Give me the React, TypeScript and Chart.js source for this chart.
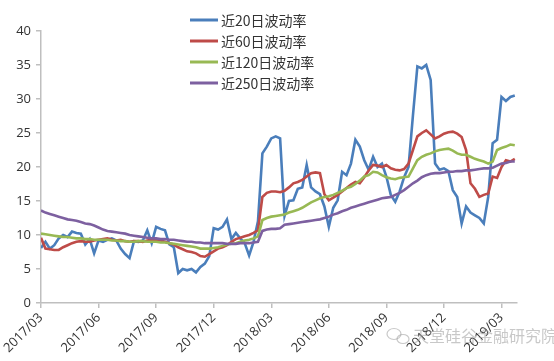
import React, { useEffect, useRef } from "react";
import { Chart, registerables } from "chart.js";

Chart.register(...registerables);

const quarterLabels = ["2017/03", "2017/06", "2017/09", "2017/12", "2018/03", "2018/06", "2018/09", "2018/12", "2019/03"];
const weeksPerQuarter = 13;

const seriesNames = ["近20日波动率", "近60日波动率", "近120日波动率", "近250日波动率"];
const seriesColors = ["#4a7ebb", "#be4b48", "#98b954", "#7d60a0"];

const vol20 = [
  8.1, 9.0, 8.0, 8.5, 9.5, 10.0, 9.7, 10.5, 10.3, 10.2, 8.6, 9.4, 7.3, 9.2, 9.0, 9.3, 9.5, 9.2, 8.0, 7.2,
  6.6, 9.1, 9.0, 9.2, 10.7, 8.8, 11.2, 10.9, 10.7, 8.6, 8.2, 4.4, 5.0, 4.8, 5.0, 4.5, 5.3, 5.8, 6.9, 11.0,
  10.8, 11.2, 12.3, 9.4, 10.3, 9.5, 8.8, 7.0, 9.0, 12.0, 22.0, 23.0, 24.2, 24.5, 24.2, 12.8, 15.0, 15.1, 16.8, 17.0,
  20.3, 17.0, 16.4, 16.0, 14.2, 11.2, 14.0, 15.1, 19.3, 18.8, 20.5, 24.0, 23.0, 21.0, 19.6, 21.5, 20.0, 20.5, 18.6, 15.9,
  14.9, 16.4, 18.5, 20.0, 27.6, 34.8, 34.5, 35.0, 32.8, 20.5, 19.6, 19.8, 19.4, 16.6, 15.6, 11.7, 14.2, 13.3, 12.9, 12.5,
  11.7, 15.6, 23.5, 24.0, 30.3, 29.7, 30.3, 30.5,
];
const vol60 = [
  9.6, 8.0, 7.9, 7.8, 7.8, 8.2, 8.5, 8.8, 9.0, 9.1, 9.0, 9.0, 9.2, 9.3, 9.4, 9.5, 9.3, 9.2, 9.3, 9.1,
  9.0, 9.1, 9.1, 9.0, 9.2, 9.3, 9.3, 9.2, 9.0, 8.8, 8.6, 8.2, 7.9, 7.6, 7.5, 7.3, 6.9, 6.8, 7.2, 7.6,
  8.0, 8.2, 8.5, 9.0, 9.4, 9.6, 9.8, 10.0, 10.3, 10.7, 15.6, 16.2, 16.4, 16.4, 16.3, 16.5, 17.0, 17.6, 17.8, 18.1,
  18.6, 19.1, 19.2, 19.1, 16.0, 15.1, 15.5, 15.9, 16.4, 16.9, 17.4, 17.8, 17.6, 18.5, 19.5, 20.3, 20.2, 20.0, 20.3, 19.8,
  19.6, 19.5, 19.7, 20.5, 22.5, 24.5, 25.0, 25.4, 24.8, 24.2, 24.5, 24.9, 25.1, 25.2, 24.9, 24.4, 22.5, 17.6, 16.8, 15.6,
  15.9, 16.1, 18.6, 18.4, 20.0, 21.0, 20.8, 21.2,
];
const vol120 = [
  10.2, 10.1, 10.0, 9.9, 9.8, 9.7, 9.7, 9.6, 9.5, 9.5, 9.4, 9.4, 9.3, 9.3, 9.3, 9.3, 9.2, 9.2, 9.1, 9.1,
  9.0, 9.0, 9.1, 9.1, 9.0, 9.0, 9.0, 8.9, 8.9, 8.8, 8.7, 8.6, 8.5, 8.4, 8.3, 8.2, 8.0, 8.0, 8.0, 8.1,
  8.2, 8.4, 8.6, 8.7, 8.8, 9.0, 9.2, 9.3, 9.5, 9.8, 12.2, 12.5, 12.7, 12.8, 12.9, 13.0, 13.3, 13.5, 13.7, 14.0,
  14.4, 14.8, 15.1, 15.4, 15.6, 15.7, 15.9, 16.2, 16.5, 16.9, 17.1, 17.5, 18.0, 18.6, 18.8, 19.3, 19.2, 18.8, 18.5, 18.3,
  18.2, 18.4, 18.5, 18.6, 19.8, 21.0, 21.5, 21.8, 22.0, 22.3, 22.5, 22.6, 22.7, 22.4, 22.0, 21.8, 21.8, 21.5, 21.2, 21.0,
  20.8, 20.5, 20.8, 22.5, 22.8, 23.0, 23.3, 23.2,
];
const vol250 = [
  13.6, 13.3, 13.1, 12.9, 12.7, 12.5, 12.3, 12.2, 12.1, 11.9, 11.7, 11.6, 11.4, 11.1, 10.8, 10.6, 10.5, 10.4, 10.3, 10.2,
  10.0, 9.9, 9.8, 9.7, 9.6, 9.5, 9.5, 9.4, 9.4, 9.3, 9.3, 9.2, 9.1, 9.0, 9.0, 8.9, 8.9, 8.8, 8.8, 8.8,
  8.8, 8.8, 8.7, 8.7, 8.7, 8.8, 8.8, 8.8, 8.9, 9.0, 10.6, 10.8, 10.9, 10.9, 11.0, 11.5, 11.6, 11.7, 11.8, 11.9,
  12.0, 12.1, 12.2, 12.3, 12.5, 12.7, 13.0, 13.2, 13.5, 13.7, 14.0, 14.2, 14.4, 14.6, 14.8, 15.0, 15.2, 15.4, 15.5, 15.6,
  15.9, 16.2, 16.6, 17.1, 17.6, 18.0, 18.5, 18.8, 19.0, 19.1, 19.1, 19.2, 19.3, 19.3, 19.4, 19.4, 19.5, 19.5, 19.6, 19.7,
  19.8, 19.8, 19.9, 20.2, 20.5, 20.6, 20.8, 20.8,
];

const allSeries = [vol20, vol60, vol120, vol250];
const watermarkText = "天堂硅谷金融研究院";

const legendPlugin = {
  id: "customLegend",
  afterDraw(chart: any) {
    const ctx = chart.ctx;
    ctx.save();
    seriesNames.forEach((name, i) => {
      const y = 20 + i * 21;
      ctx.strokeStyle = seriesColors[i];
      ctx.lineWidth = 3;
      ctx.beginPath();
      ctx.moveTo(190, y);
      ctx.lineTo(218, y);
      ctx.stroke();
      ctx.fillStyle = "#333333";
      ctx.font = "14px 'Noto Sans CJK SC', 'Noto Sans', sans-serif";
      ctx.textBaseline = "middle";
      ctx.textAlign = "left";
      ctx.fillText(name, 221, y + 1);
    });
    // watermark
    ctx.globalAlpha = 0.55;
    ctx.strokeStyle = "#9a9a9a";
    ctx.lineWidth = 1.2;
    ctx.beginPath();
    ctx.ellipse(394, 334, 7, 5.5, 0, 0, Math.PI * 2);
    ctx.stroke();
    ctx.beginPath();
    ctx.ellipse(403, 339, 6, 4.5, 0, 0, Math.PI * 2);
    ctx.stroke();
    ctx.fillStyle = "#9a9a9a";
    ctx.font = "16px 'Noto Sans CJK SC', sans-serif";
    ctx.textBaseline = "middle";
    ctx.fillText(watermarkText, 413, 336);
    ctx.restore();
  },
};

export default function App() {
  const canvasRef = useRef<HTMLCanvasElement | null>(null);

  useEffect(() => {
    document.body.style.margin = "0";
    const canvas = canvasRef.current;
    if (!canvas) return;
    const order = [3, 2, 1, 0];
    const chart = new Chart(canvas, {
      type: "line",
      data: {
        datasets: allSeries.map((vals, i) => ({
          label: seriesNames[i],
          data: vals.map((v, k) => ({ x: k, y: v })),
          borderColor: seriesColors[i],
          backgroundColor: seriesColors[i],
          borderWidth: 2.6,
          pointRadius: 0,
          tension: 0,
          order: order[i],
        })),
      },
      options: {
        responsive: false,
        animation: false,
        layout: { padding: { top: 31, right: 37, left: 0, bottom: 0 } },
        plugins: { legend: { display: false }, tooltip: { enabled: false } },
        scales: {
          x: {
            type: "linear",
            min: 0,
            max: 107.5,
            afterBuildTicks: (scale: any) => {
              scale.ticks = quarterLabels.map((_, i) => ({ value: i * weeksPerQuarter }));
            },
            afterFit: (scale: any) => {
              scale.height = 58;
            },
            ticks: {
              autoSkip: false,
              minRotation: 45,
              maxRotation: 45,
              padding: 2,
              color: "#333333",
              font: { size: 13, family: "'Open Sans', 'Noto Sans', sans-serif" },
              callback: (v: any) => quarterLabels[Math.round(Number(v) / weeksPerQuarter)] ?? "",
            },
            grid: { display: true, drawOnChartArea: false, drawTicks: true, tickLength: 5, color: "#bfbfbf", lineWidth: 1.5 },
            border: { display: true, color: "#bfbfbf", width: 1.5 },
          },
          y: {
            min: 0,
            max: 40,
            afterFit: (scale: any) => {
              scale.width = 41;
            },
            ticks: {
              stepSize: 5,
              padding: 5,
              color: "#333333",
              font: { size: 13, family: "'Open Sans', 'Noto Sans', sans-serif" },
            },
            grid: { display: true, drawOnChartArea: false, drawTicks: true, tickLength: 5, color: "#bfbfbf", lineWidth: 1.5 },
            border: { display: true, color: "#bfbfbf", width: 1.5 },
          },
        },
      },
      plugins: [legendPlugin],
    } as any);
    return () => chart.destroy();
  }, []);

  return (
    <div style={{ width: 554, height: 361, background: "#ffffff" }}>
      <canvas ref={canvasRef} width={554} height={361} style={{ display: "block" }} />
    </div>
  );
}
